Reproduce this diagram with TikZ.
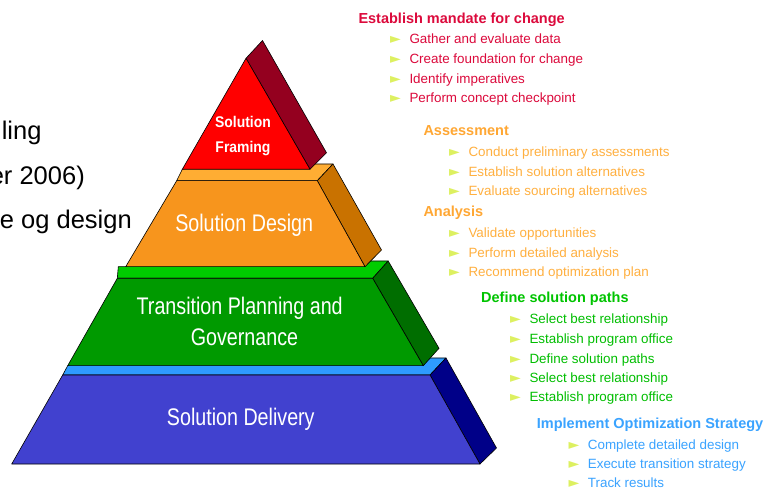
\documentclass[tikz,border=0pt]{standalone}
\usepackage{fontspec}
\setmainfont{Liberation Sans}
\newfontfamily\narrowfont[FakeStretch=0.82]{Liberation Sans}
\newfontfamily\framefont[FakeStretch=0.9]{Liberation Sans}
\newfontfamily\bulfont{DejaVu Sans}
\definecolor{redfront}{HTML}{FF0000}
\definecolor{redside}{HTML}{94001F}
\definecolor{orfront}{HTML}{F7951D}
\definecolor{ortop}{HTML}{FFAD33}
\definecolor{orside}{HTML}{C97200}
\definecolor{grfront}{HTML}{009A00}
\definecolor{grtop}{HTML}{00CC00}
\definecolor{grside}{HTML}{006E00}
\definecolor{blfront}{HTML}{4141CF}
\definecolor{bltop}{HTML}{2E9BFF}
\definecolor{blside}{HTML}{000088}
\definecolor{crim}{HTML}{DC0A3C}
\definecolor{orh}{HTML}{FFA733}
\definecolor{ori}{HTML}{FFB040}
\definecolor{grh}{HTML}{00C400}
\definecolor{gri}{HTML}{00BE00}
\definecolor{blh}{HTML}{3AA3FF}
\definecolor{bulc}{HTML}{DDF060}
\newcommand\bul{\makebox[19.3pt][l]{\bulfont\fontsize{14}{14}\selectfont\color{bulc}►}}
\tikzset{
  face/.style={draw=black,line width=0.6pt,line join=round},
  head/.style={anchor=base west,inner sep=0pt,font=\bfseries\fontsize{14.5}{16}\selectfont},
  itm/.style={anchor=base west,inner sep=0pt,font=\fontsize{13.4}{16}\selectfont},
  lbl/.style={anchor=base,inner sep=0pt,text=white,font=\narrowfont\fontsize{24}{26}\selectfont},
  lefttxt/.style={anchor=base east,inner sep=0pt,text=black,font=\fontsize{25.5}{28}\selectfont}
}
\begin{document}
\begin{tikzpicture}[x=1pt,y=-1pt]
\useasboundingbox (0,0) rectangle (780,489);
\clip (0,0) rectangle (780,489);
\fill[white] (0,0) rectangle (780,489);

% left text fragments (cut by the left edge, as in the reference)
\node[lefttxt] (l1) at (41.7,140) {ling};
\node[lefttxt] (l2) at (85,184.5) {er 2006)};
\node[lefttxt] (l3) at (132,229) {e og design};

% blue layer
\filldraw[face,fill=bltop] (62.7,375) -- (430,375) -- (446,358) -- (90,358) -- (67.7,365.7) -- cycle;
\filldraw[face,fill=blside] (430,375) -- (446,358) -- (496.5,448) -- (480,464) -- cycle;
\filldraw[face,fill=blfront] (11.7,464) -- (62.7,375) -- (430,375) -- (480,464) -- cycle;
% green layer
\filldraw[face,fill=grtop] (117.3,278.3) -- (372.7,278.3) -- (388.2,261) -- (140,261) -- (125.7,266.7) -- (118.3,266.7) -- cycle;
\filldraw[face,fill=grside] (372.7,278.3) -- (388.2,261) -- (439,348.3) -- (423.3,365.7) -- cycle;
\filldraw[face,fill=grfront] (67.7,365.7) -- (117.3,278.3) -- (372.7,278.3) -- (423.3,365.7) -- cycle;
% orange layer
\filldraw[face,fill=ortop] (176.7,180.7) -- (317.3,180.7) -- (333,164) -- (200,164) -- (182.3,169.3) -- cycle;
\filldraw[face,fill=orside] (317.3,180.7) -- (333,164) -- (381.5,250) -- (365,266.7) -- cycle;
\filldraw[face,fill=orfront] (125.7,266.7) -- (176.7,180.7) -- (317.3,180.7) -- (365,266.7) -- cycle;
% red layer
\filldraw[face,fill=redside] (246,58.3) -- (262.5,40.5) -- (326.5,152.8) -- (310,169.3) -- cycle;
\filldraw[face,fill=redfront] (182.3,169.3) -- (246,58.3) -- (310,169.3) -- cycle;

% pyramid labels
\node[anchor=base,inner sep=0pt,text=white,font=\framefont\bfseries\fontsize{15.5}{17}\selectfont] (sf1) at (243,127.3) {Solution};
\node[anchor=base,inner sep=0pt,text=white,font=\framefont\bfseries\fontsize{15.5}{17}\selectfont] (sf2) at (243,152.7) {Framing};
\node[lbl] (sd) at (244.2,231.7) {Solution Design};
\node[lbl] (tp1) at (239.7,314.3) {Transition Planning and};
\node[lbl] (tp2) at (244.5,345) {Governance};
\node[lbl] (del) at (240.8,425) {Solution Delivery};

% right lists
\node[head,text=crim] (h1) at (358.3,23.3) {Establish mandate for change};
\node[itm,text=crim] (h1a) at (390,44) {\bul Gather and evaluate data};
\node[itm,text=crim] (h1b) at (390,63.6) {\bul Create foundation for change};
\node[itm,text=crim] (h1c) at (390,83.2) {\bul Identify imperatives};
\node[itm,text=crim] (h1d) at (390,102.7) {\bul Perform concept checkpoint};

\node[head,text=orh] (h2) at (423.3,136) {Assessment};
\node[itm,text=ori] (h2a) at (449,156.7) {\bul Conduct preliminary assessments};
\node[itm,text=ori] (h2b) at (449,176.2) {\bul Establish solution alternatives};
\node[itm,text=ori] (h2c) at (449,195.7) {\bul Evaluate sourcing alternatives};
\node[head,text=orh] (h3) at (423.3,216.5) {Analysis};
\node[itm,text=ori] (h3a) at (449,238) {\bul Validate opportunities};
\node[itm,text=ori] (h3b) at (449,257.4) {\bul Perform detailed analysis};
\node[itm,text=ori] (h3c) at (449,276.8) {\bul Recommend optimization plan};

\node[head,text=grh] (h4) at (481,302.7) {Define solution paths};
\node[itm,text=gri] (h4a) at (510,324) {\bul Select best relationship};
\node[itm,text=gri] (h4b) at (510,343.5) {\bul Establish program office};
\node[itm,text=gri] (h4c) at (510,363) {\bul Define solution paths};
\node[itm,text=gri] (h4d) at (510,382.5) {\bul Select best relationship};
\node[itm,text=gri] (h4e) at (510,402) {\bul Establish program office};

\node[head,text=blh] (h5) at (536.7,428.3) {Implement Optimization Strategy};
\node[itm,text=blh] (h5a) at (568.4,449) {\bul Complete detailed design};
\node[itm,text=blh] (h5b) at (568.4,468.4) {\bul Execute transition strategy};
\node[itm,text=blh] (h5c) at (568.4,487.7) {\bul Track results};
\end{tikzpicture}
\end{document}
